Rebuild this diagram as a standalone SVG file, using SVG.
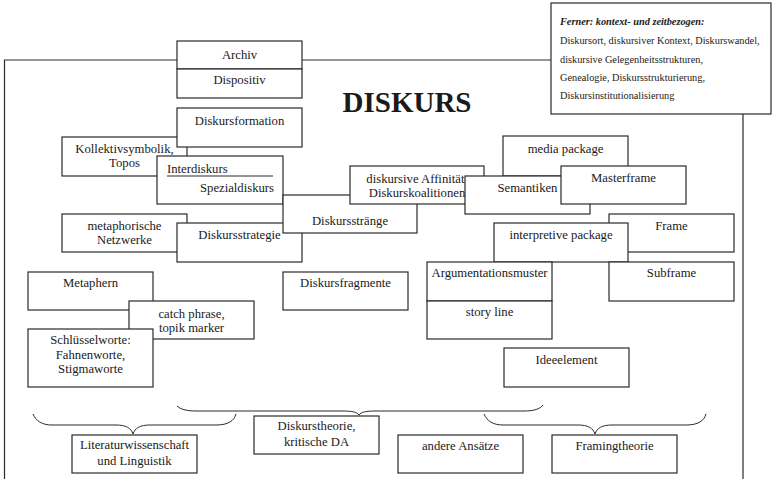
<svg xmlns="http://www.w3.org/2000/svg" width="774" height="479" viewBox="0 0 774 479">
<style>
rect{fill:#fff;stroke:#2a2a2a;stroke-width:1.2}
text{font-family:"Liberation Serif","Times New Roman",serif;font-size:12.7px;fill:#1a1a1a;text-anchor:middle}
.ln{fill:none;stroke:#2a2a2a;stroke-width:1.2}
.br{fill:none;stroke:#2a2a2a;stroke-width:1}
.sm{font-size:10.3px;text-anchor:start}
.title{font-size:29px;font-weight:bold}
</style>
<rect x="0" y="0" width="774" height="479" style="fill:#fff;stroke:none"/>
<g id="connectors">
<path class="ln" d="M4.5,479 V60 H177 M302,60 H551 M743,114 V479"/>
<path class="br" d="M33,414 C36,421 42,425 52,425 H116 C126,425 131,428 133,434 C135,428 140,425 150,425 H216 C228,425 234,421 236,414"/>
<path class="br" d="M177,406 C180,409 186,411 196,411 H342 C352,411 357,412 359,415 C361,412 366,411 376,411 H524 C534,411 540,409 543,405"/>
<path class="br" d="M484,414 C487,421 493,425 503,425 H578 C588,425 593,428 595,434 C597,428 602,425 612,425 H686 C698,425 704,421 706,414"/>
</g>
<text class="title" x="407" y="112">DISKURS</text>
<g id="ferner">
<rect x="551" y="3" width="220" height="111"/>
<text class="sm" x="560" y="25" font-weight="bold" font-style="italic">Ferner: kontext- und zeitbezogen:</text>
<text class="sm" x="560" y="44">Diskursort, diskursiver Kontext, Diskurswandel,</text>
<text class="sm" x="560" y="63">diskursive Gelegenheitsstrukturen,</text>
<text class="sm" x="560" y="81">Genealogie, Diskursstrukturierung,</text>
<text class="sm" x="560" y="99">Diskursinstitutionalisierung</text>
</g>
<g id="archiv"><rect x="177" y="41" width="125" height="28"/><text x="239.5" y="59">Archiv</text></g>
<g id="dispositiv"><rect x="177" y="69" width="125" height="29"/><text x="239.5" y="84">Dispositiv</text></g>
<g id="kollektivsymbolik"><rect x="62" y="137" width="125" height="39"/><text x="124.5" y="153">Kollektivsymbolik,<tspan x="124.5" dy="14">Topos</tspan></text></g>
<g id="diskursformation"><rect x="177" y="108" width="125" height="39"/><text x="239.5" y="125">Diskursformation</text></g>
<g id="interdiskurs"><rect x="157" y="156" width="126" height="48"/><line class="ln" x1="167" y1="176" x2="273" y2="176"/><text x="167" y="172.5" style="text-anchor:start">Interdiskurs</text><text x="274" y="192" style="text-anchor:end">Spezialdiskurs</text></g>
<g id="metaphorische"><rect x="62" y="214" width="125" height="38"/><text x="124.5" y="230">metaphorische<tspan x="124.5" dy="14">Netzwerke</tspan></text></g>
<g id="diskursstrategie"><rect x="177" y="223" width="125" height="39"/><text x="239.5" y="239">Diskursstrategie</text></g>
<g id="diskursstraenge"><rect x="283" y="195" width="134" height="38"/><text x="350" y="225">Diskursstränge</text></g>
<g id="affinitaet"><rect x="350" y="166" width="134" height="38"/><text x="417" y="182.5">diskursive Affinität,<tspan x="417" dy="14">Diskurskoalitionen</tspan></text></g>
<g id="mediapackage"><rect x="503" y="136" width="125" height="40"/><text x="565.5" y="153">media package</text></g>
<g id="semantiken"><rect x="465" y="176" width="125" height="38"/><text x="527.5" y="192">Semantiken</text></g>
<g id="masterframe"><rect x="561" y="166" width="125" height="38"/><text x="623.5" y="182">Masterframe</text></g>
<g id="frame"><rect x="609" y="214" width="125" height="38"/><text x="671.5" y="230">Frame</text></g>
<g id="interpretivepackage"><rect x="494" y="223" width="134" height="39"/><text x="561" y="239">interpretive package</text></g>
<g id="argumentationsmuster"><rect x="427" y="262" width="125" height="39"/><text x="489.5" y="277">Argumentationsmuster</text></g>
<g id="subframe"><rect x="609" y="262" width="125" height="39"/><text x="671.5" y="277">Subframe</text></g>
<g id="storyline"><rect x="427" y="301" width="125" height="38"/><text x="489.5" y="316">story line</text></g>
<g id="ideeelement"><rect x="504" y="348" width="125" height="39"/><text x="566.5" y="364">Ideeelement</text></g>
<g id="diskursfragmente"><rect x="283" y="272" width="125" height="38"/><text x="345.5" y="287">Diskursfragmente</text></g>
<g id="metaphern"><rect x="28" y="272" width="125" height="38"/><text x="90.5" y="287">Metaphern</text></g>
<g id="catchphrase"><rect x="129" y="301" width="125" height="38"/><text x="191.5" y="318">catch phrase,<tspan x="191.5" dy="14">topik marker</tspan></text></g>
<g id="schluesselworte"><rect x="28" y="329" width="125" height="58"/><text x="90.5" y="344">Schlüsselworte:<tspan x="90.5" dy="14.5">Fahnenworte,</tspan><tspan x="90.5" dy="14.5">Stigmaworte</tspan></text></g>
<g id="literaturwissenschaft"><rect x="72" y="435" width="125" height="38"/><text x="134.5" y="449">Literaturwissenschaft<tspan x="134.5" dy="15.5">und Linguistik</tspan></text></g>
<g id="diskurstheorie"><rect x="254" y="416" width="125" height="38"/><text x="316.5" y="430">Diskurstheorie,<tspan x="316.5" dy="15.5">kritische DA</tspan></text></g>
<g id="andereansaetze"><rect x="398" y="435" width="125" height="38"/><text x="460.5" y="450">andere Ansätze</text></g>
<g id="framingtheorie"><rect x="552" y="435" width="125" height="38"/><text x="614.5" y="450">Framingtheorie</text></g>
</svg>
